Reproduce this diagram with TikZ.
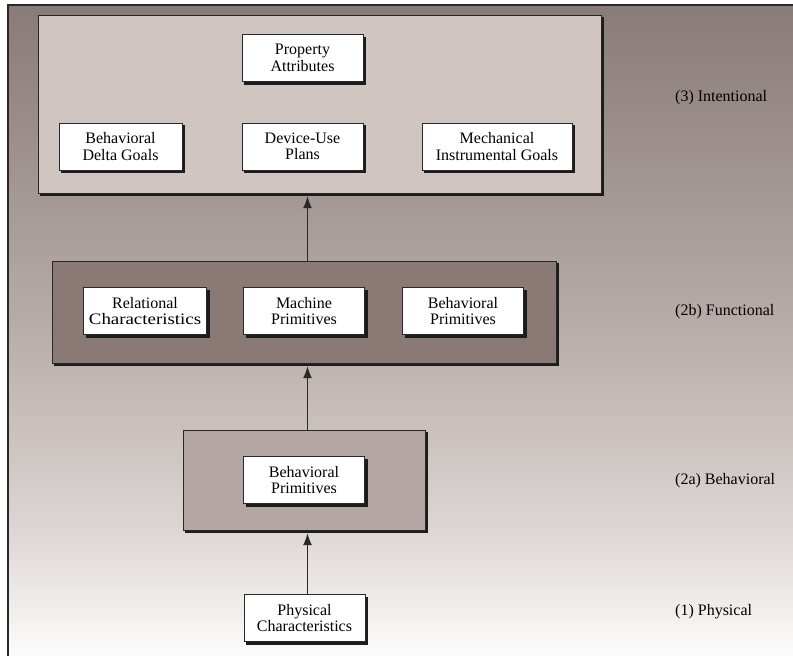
\documentclass[tikz,border=0pt]{standalone}
\usepackage{fontspec}
\setmainfont{Liberation Serif}
\usetikzlibrary{arrows.meta}
\definecolor{bgtop}{RGB}{137,123,119}
\definecolor{bgmid}{RGB}{184,173,169}
\definecolor{bglow}{RGB}{220,213,211}
\definecolor{bgbot}{RGB}{252,252,252}
\definecolor{intentfill}{RGB}{208,197,193}
\definecolor{funcfill}{RGB}{138,121,117}
\definecolor{behavfill}{RGB}{180,166,162}
\definecolor{edge}{RGB}{40,40,40}
\definecolor{shadowc}{RGB}{28,28,28}
\pgfdeclareverticalshading{bgshade}{100bp}{color(0bp)=(bgbot); color(25bp)=(bgbot); color(35bp)=(bglow); color(50bp)=(bgmid); color(75bp)=(bgtop); color(100bp)=(bgtop)}
\pgfdeclarelayer{shadone}
\pgfdeclarelayer{boxes}
\pgfdeclarelayer{shadtwo}
\pgfsetlayers{shadone,boxes,shadtwo,main}
\tikzset{
  layerbox/.style={draw=edge,line width=0.8pt,inner sep=0pt},
  itembox/.style={draw=edge,line width=0.8pt,fill=white,minimum width=121pt,minimum height=47pt,
    align=center,inner sep=0pt,font=\fontsize{16}{16.5}\selectfont},
  shadowfill/.style={fill=shadowc},
  levellabel/.style={anchor=west,font=\fontsize{16}{16.5}\selectfont,inner sep=0pt},
  arr/.style={draw=edge,line width=1.3pt,-{Latex[length=12pt,width=9pt]}}
}
\begin{document}
\begin{tikzpicture}[x=1pt,y=-1pt]
\useasboundingbox (0,0) rectangle (793,656);
\begin{pgfonlayer}{shadone}
\fill[white] (0,0) rectangle (793,656);
\shade[shading=bgshade] (8,5) rectangle (793,656);
\draw[edge,line width=1.5pt] (8,660) -- (8,5) -- (797,5);
\end{pgfonlayer}

% layer boxes
\begin{pgfonlayer}{boxes}
\node[layerbox,fill=intentfill,minimum width=563pt,minimum height=178pt] (intent) at (319.5,104) {};
\node[layerbox,fill=funcfill,minimum width=504pt,minimum height=102pt] (func) at (304,312) {};
\node[layerbox,fill=behavfill,minimum width=242pt,minimum height=100pt] (behav) at (304,480) {};
\end{pgfonlayer}

% intentional items
\node[itembox] (prop) at (302.5,58) {Property\\Attributes};
\node[itembox,minimum width=123pt] (delta) at (120.5,146.5) {Behavioral\\Delta Goals};
\node[itembox] (device) at (302.5,146.5) {Device-Use\\Plans};
\node[itembox,minimum width=150pt] (mech) at (497,146.5) {Mechanical\\Instrumental Goals};

% functional items
\node[itembox,minimum width=123pt] (rel) at (145,311) {Relational\\\scalebox{1.18}[1]{Characteristics}};
\node[itembox] (mach) at (304,311) {Machine\\Primitives};
\node[itembox] (bprimf) at (463,311) {Behavioral\\Primitives};

% behavioral item
\node[itembox] (bprimb) at (304,480) {Behavioral\\Primitives};

% physical item
\node[itembox] (phys) at (304.5,618) {Physical\\Characteristics};

% shadows
\begin{pgfonlayer}{shadone}
\foreach \n in {intent,func,behav}
  \fill[shadowfill] ([shift={(2.8,2.8)}]\n.north west) rectangle ([shift={(2.8,2.8)}]\n.south east);
\end{pgfonlayer}
\begin{pgfonlayer}{shadtwo}
\foreach \n in {prop,delta,device,mech,rel,mach,bprimf,bprimb,phys}
  \fill[shadowfill] ([shift={(2.8,2.8)}]\n.north west) rectangle ([shift={(2.8,2.8)}]\n.south east);
\end{pgfonlayer}

% arrows
\coordinate (ax) at (307.5,0);
\draw[arr] (func.north -| ax) -- ([yshift=-2.8pt]intent.south -| ax);
\draw[arr] (behav.north -| ax) -- ([yshift=-2.8pt]func.south -| ax);
\draw[arr] (phys.north -| ax) -- ([yshift=-2.8pt]behav.south -| ax);

% level labels
\node[levellabel] (l3) at (675,98) {(3) Intentional};
\node[levellabel] (l2b) at (675,312) {(2b) Functional};
\node[levellabel] (l2a) at (675,481) {(2a) Behavioral};
\node[levellabel] (l1) at (675,612) {(1) Physical};
\end{tikzpicture}
\end{document}
